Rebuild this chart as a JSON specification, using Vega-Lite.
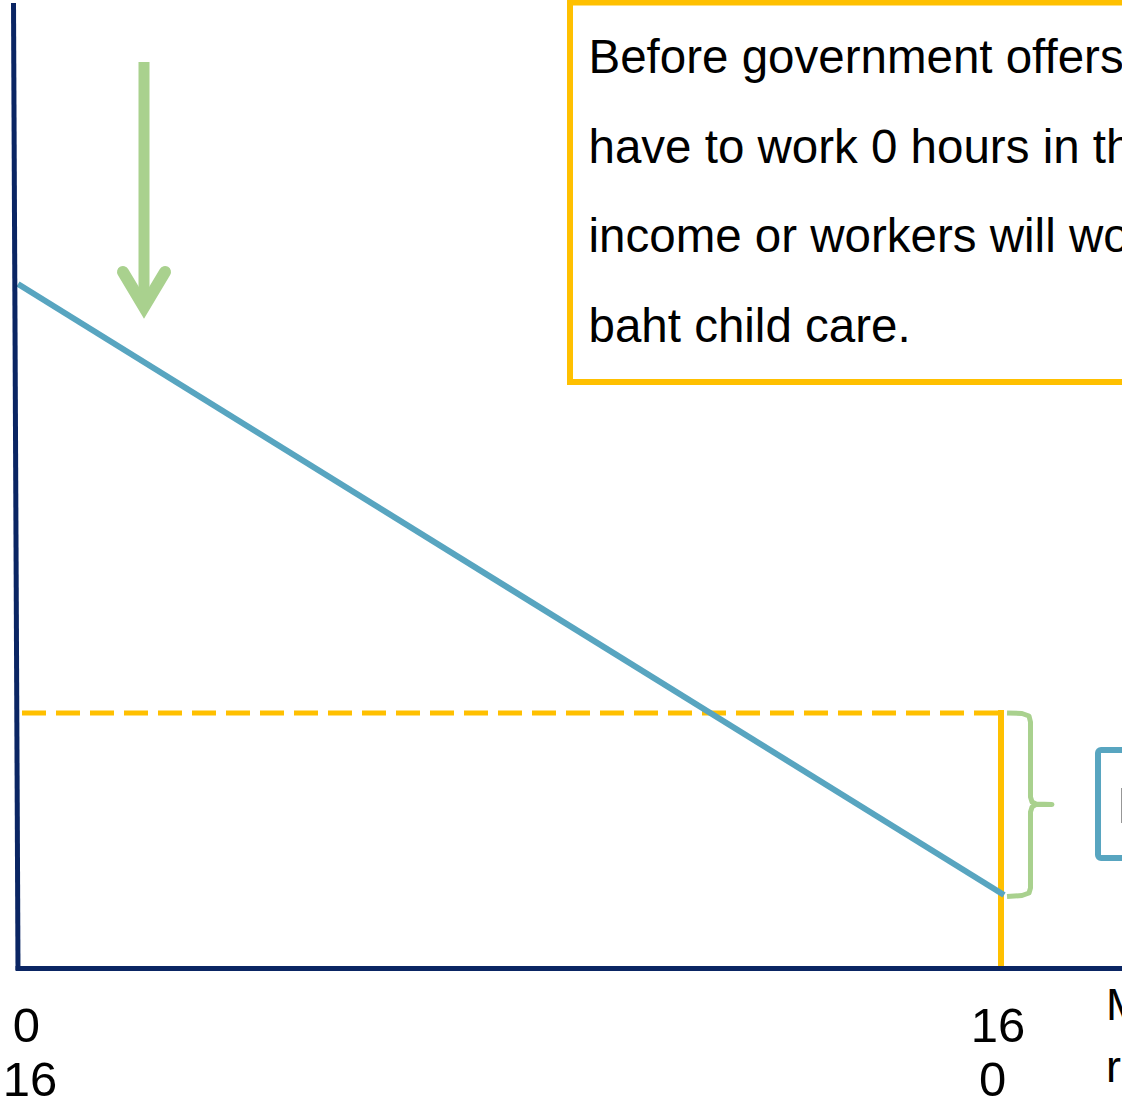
{
  "$schema": "https://vega.github.io/schema/vega-lite/v6.json",
  "width": 1122,
  "height": 1101,
  "padding": 0,
  "autosize": {"type": "none"},
  "background": "white",
  "config": {"view": {"stroke": null}},
  "datasets": {
    "yaxis": [{"h": -0.0732, "v": 965}, {"h": 0, "v": -2}],
    "xaxis": [{"h": -0.04, "v": -0.5}, {"h": 18.2, "v": -0.5}],
    "budget": [{"h": 0, "v": 684}, {"h": 16.05, "v": 73}],
    "dashed": [{"h": 0.065, "v": 255}, {"h": 16, "v": 255}],
    "vert": [{"h": 16, "v": 258}, {"h": 16, "v": -3}],
    "brace": [
      {"o": 1, "h": 16.098, "v": 255},
      {"o": 2, "h": 16.342, "v": 254.5},
      {"o": 3, "h": 16.456, "v": 252},
      {"o": 4, "h": 16.48, "v": 246},
      {"o": 5, "h": 16.48, "v": 171},
      {"o": 6, "h": 16.505, "v": 166},
      {"o": 7, "h": 16.57, "v": 164},
      {"o": 8, "h": 16.83, "v": 163.5},
      {"o": 9, "h": 16.57, "v": 163.5},
      {"o": 10, "h": 16.505, "v": 161},
      {"o": 11, "h": 16.48, "v": 156},
      {"o": 12, "h": 16.48, "v": 80},
      {"o": 13, "h": 16.456, "v": 75},
      {"o": 14, "h": 16.342, "v": 72.5},
      {"o": 15, "h": 16.098, "v": 71.5}
    ],
    "shaft": [{"h": 2.0509, "v": 906}, {"h": 2.0509, "v": 664}],
    "head": [
      {"o": 1, "h": 1.7091, "v": 696},
      {"o": 2, "h": 2.0509, "v": 661},
      {"o": 3, "h": 2.3928, "v": 696}
    ],
    "textbox": [{"h": 8.985, "h2": 19, "v": 965.5, "v2": 586}],
    "bluebox": [{"h": 17.579, "h2": 19, "v": 218, "v2": 110}],
    "boxtext": [
      {"h": 9.286, "v": 895, "label": "Before government offers"},
      {"h": 9.286, "v": 805, "label": "have to work 0 hours in the"},
      {"h": 9.286, "v": 716, "label": "income or workers will work"},
      {"h": 9.286, "v": 626, "label": "baht child care."}
    ],
    "bluetext": [{"h": 17.89, "v": 145, "label": "B"}],
    "ticks": [
      {"h": 0.138, "v": -74, "label": "0"},
      {"h": 0.195, "v": -128, "label": "16"},
      {"h": 15.951, "v": -74, "label": "16"},
      {"h": 15.862, "v": -128, "label": "0"}
    ],
    "corner": [
      {"h": 17.709, "v": -52, "label": "M"},
      {"h": 17.709, "v": -114, "label": "r"}
    ]
  },
  "layer": [
    {
      "data": {"name": "textbox"},
      "mark": {"type": "rect", "fill": "white", "stroke": "#FFC000", "strokeWidth": 6, "clip": true},
      "encoding": {
        "x": {"field": "h", "type": "quantitative", "scale": {"domain": [-0.29298, 17.9695], "nice": false, "zero": false}, "axis": null},
        "x2": {"field": "h2"},
        "y": {"field": "v", "type": "quantitative", "scale": {"domain": [-133, 968], "nice": false, "zero": false}, "axis": null},
        "y2": {"field": "v2"}
      }
    },
    {
      "data": {"name": "boxtext"},
      "mark": {"type": "text", "align": "left", "baseline": "alphabetic", "font": "Liberation Sans", "fontSize": 47.5, "fill": "#000000", "clip": true},
      "encoding": {
        "x": {"field": "h", "type": "quantitative", "scale": {"domain": [-0.29298, 17.9695], "nice": false, "zero": false}, "axis": null},
        "y": {"field": "v", "type": "quantitative", "scale": {"domain": [-133, 968], "nice": false, "zero": false}, "axis": null},
        "text": {"field": "label"}
      }
    },
    {
      "data": {"name": "bluebox"},
      "mark": {"type": "rect", "fill": "white", "stroke": "#58A5C0", "strokeWidth": 6, "cornerRadius": 3, "clip": true},
      "encoding": {
        "x": {"field": "h", "type": "quantitative", "scale": {"domain": [-0.29298, 17.9695], "nice": false, "zero": false}, "axis": null},
        "x2": {"field": "h2"},
        "y": {"field": "v", "type": "quantitative", "scale": {"domain": [-133, 968], "nice": false, "zero": false}, "axis": null},
        "y2": {"field": "v2"}
      }
    },
    {
      "data": {"name": "bluetext"},
      "mark": {"type": "text", "align": "left", "baseline": "alphabetic", "font": "Liberation Sans", "fontSize": 50, "fill": "#8c8c8c", "clip": true},
      "encoding": {
        "x": {"field": "h", "type": "quantitative", "scale": {"domain": [-0.29298, 17.9695], "nice": false, "zero": false}, "axis": null},
        "y": {"field": "v", "type": "quantitative", "scale": {"domain": [-133, 968], "nice": false, "zero": false}, "axis": null},
        "text": {"field": "label"}
      }
    },
    {
      "data": {"name": "dashed"},
      "mark": {"type": "line", "stroke": "#FFC000", "strokeWidth": 5, "strokeDash": [24, 10], "clip": true},
      "encoding": {
        "x": {"field": "h", "type": "quantitative", "scale": {"domain": [-0.29298, 17.9695], "nice": false, "zero": false}, "axis": null},
        "y": {"field": "v", "type": "quantitative", "scale": {"domain": [-133, 968], "nice": false, "zero": false}, "axis": null}
      }
    },
    {
      "data": {"name": "vert"},
      "mark": {"type": "line", "stroke": "#FFC000", "strokeWidth": 6, "clip": true},
      "encoding": {
        "x": {"field": "h", "type": "quantitative", "scale": {"domain": [-0.29298, 17.9695], "nice": false, "zero": false}, "axis": null},
        "y": {"field": "v", "type": "quantitative", "scale": {"domain": [-133, 968], "nice": false, "zero": false}, "axis": null}
      }
    },
    {
      "data": {"name": "budget"},
      "mark": {"type": "line", "stroke": "#58A5C0", "strokeWidth": 6, "clip": true},
      "encoding": {
        "x": {"field": "h", "type": "quantitative", "scale": {"domain": [-0.29298, 17.9695], "nice": false, "zero": false}, "axis": null},
        "y": {"field": "v", "type": "quantitative", "scale": {"domain": [-133, 968], "nice": false, "zero": false}, "axis": null}
      }
    },
    {
      "data": {"name": "brace"},
      "mark": {"type": "line", "stroke": "#A9D18E", "strokeWidth": 5, "strokeJoin": "round", "interpolate": "linear", "clip": true},
      "encoding": {
        "x": {"field": "h", "type": "quantitative", "scale": {"domain": [-0.29298, 17.9695], "nice": false, "zero": false}, "axis": null},
        "y": {"field": "v", "type": "quantitative", "scale": {"domain": [-133, 968], "nice": false, "zero": false}, "axis": null},
        "order": {"field": "o", "type": "quantitative"}
      }
    },
    {
      "data": {"name": "shaft"},
      "mark": {"type": "line", "stroke": "#A9D18E", "strokeWidth": 11, "strokeCap": "butt", "clip": true},
      "encoding": {
        "x": {"field": "h", "type": "quantitative", "scale": {"domain": [-0.29298, 17.9695], "nice": false, "zero": false}, "axis": null},
        "y": {"field": "v", "type": "quantitative", "scale": {"domain": [-133, 968], "nice": false, "zero": false}, "axis": null}
      }
    },
    {
      "data": {"name": "head"},
      "mark": {"type": "line", "stroke": "#A9D18E", "strokeWidth": 12, "strokeCap": "round", "strokeJoin": "miter", "strokeMiterLimit": 10, "clip": true},
      "encoding": {
        "x": {"field": "h", "type": "quantitative", "scale": {"domain": [-0.29298, 17.9695], "nice": false, "zero": false}, "axis": null},
        "y": {"field": "v", "type": "quantitative", "scale": {"domain": [-133, 968], "nice": false, "zero": false}, "axis": null},
        "order": {"field": "o", "type": "quantitative"}
      }
    },
    {
      "data": {"name": "yaxis"},
      "mark": {"type": "line", "stroke": "#0A2563", "strokeWidth": 5, "clip": true},
      "encoding": {
        "x": {"field": "h", "type": "quantitative", "scale": {"domain": [-0.29298, 17.9695], "nice": false, "zero": false}, "axis": null},
        "y": {"field": "v", "type": "quantitative", "scale": {"domain": [-133, 968], "nice": false, "zero": false}, "axis": null}
      }
    },
    {
      "data": {"name": "xaxis"},
      "mark": {"type": "line", "stroke": "#0A2563", "strokeWidth": 5, "clip": true},
      "encoding": {
        "x": {"field": "h", "type": "quantitative", "scale": {"domain": [-0.29298, 17.9695], "nice": false, "zero": false}, "axis": null},
        "y": {"field": "v", "type": "quantitative", "scale": {"domain": [-133, 968], "nice": false, "zero": false}, "axis": null}
      }
    },
    {
      "data": {"name": "ticks"},
      "mark": {"type": "text", "align": "center", "baseline": "alphabetic", "font": "Liberation Sans", "fontSize": 49, "fill": "#000000", "clip": true},
      "encoding": {
        "x": {"field": "h", "type": "quantitative", "scale": {"domain": [-0.29298, 17.9695], "nice": false, "zero": false}, "axis": null},
        "y": {"field": "v", "type": "quantitative", "scale": {"domain": [-133, 968], "nice": false, "zero": false}, "axis": null},
        "text": {"field": "label"}
      }
    },
    {
      "data": {"name": "corner"},
      "mark": {"type": "text", "align": "left", "baseline": "alphabetic", "font": "Liberation Sans", "fontSize": 45, "fill": "#000000", "clip": true},
      "encoding": {
        "x": {"field": "h", "type": "quantitative", "scale": {"domain": [-0.29298, 17.9695], "nice": false, "zero": false}, "axis": null},
        "y": {"field": "v", "type": "quantitative", "scale": {"domain": [-133, 968], "nice": false, "zero": false}, "axis": null},
        "text": {"field": "label"}
      }
    }
  ]
}
